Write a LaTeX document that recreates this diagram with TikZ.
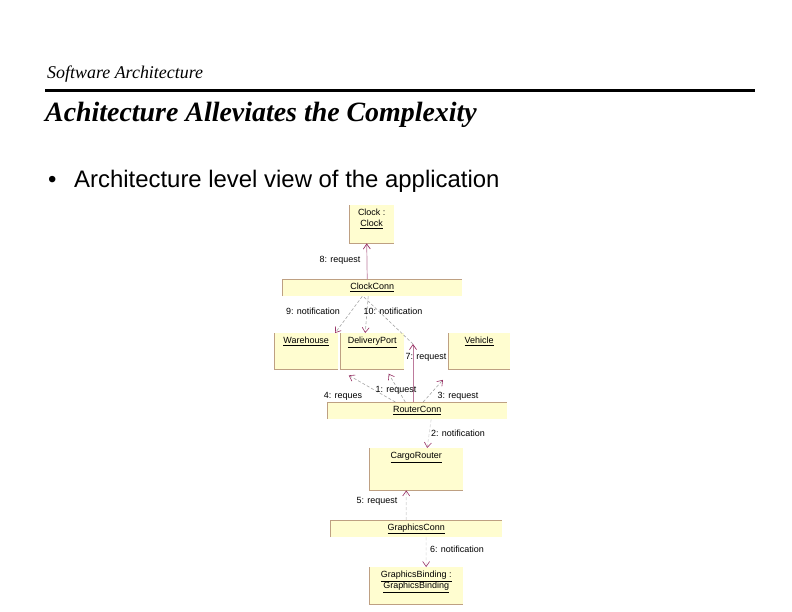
\documentclass[tikz,border=0pt]{standalone}
\usepackage{fontspec}
\setmainfont{Liberation Serif}
\setsansfont{Liberation Sans}
\usetikzlibrary{arrows.meta, positioning}
\definecolor{notefill}{RGB}{255,253,208}
\definecolor{noteedge}{RGB}{190,160,130}
\definecolor{msgpink}{RGB}{153,51,102}
\definecolor{msgline}{RGB}{165,165,165}

\begin{document}
\begin{tikzpicture}[x=1bp, y=-1bp,
        comp/.style={fill=notefill, inner sep=0pt, anchor=north west,
                     path picture={\draw[noteedge, line width=1.2bp]
                       (path picture bounding box.north west) |- (path picture bounding box.south east);}},
        bar/.style={fill=notefill, inner sep=0pt, anchor=north west,
                    font=\sffamily\fontsize{9}{10}\selectfont,
                    path picture={\draw[noteedge, line width=1.2bp]
                       (path picture bounding box.south west) |- (path picture bounding box.north east);}},
        boxtext/.style={font=\sffamily\fontsize{9}{11}\selectfont, anchor=north, inner sep=4bp, align=center},
        lbl/.style={font=\sffamily\fontsize{9}{10}\selectfont, inner sep=0pt},
        msg/.style={msgline, densely dashed, line width=0.6bp,
                    -{Straight Barb[length=5bp, width=7bp, color=msgpink]}},
        faint/.style={msg, msgline!45},
        call/.style={msgpink!65, line width=0.7bp,
                     -{Straight Barb[length=5bp, width=7bp, color=msgpink]}}
      ]
        \useasboundingbox[fill=white] (0,0) rectangle (792,612);

        % slide header
        \node[font=\fontsize{18}{21}\selectfont\itshape, anchor=base west, inner sep=0pt]
          (runhead) at (47,79) {Software Architecture};
        \draw[line width=3bp] (45,91) -- (755,91);
        \node[font=\fontsize{28}{33}\selectfont\bfseries\itshape, anchor=base west, inner sep=0pt]
          (title) at (45,122) {Achitecture Alleviates the Complexity};
        \node[font=\sffamily\fontsize{24}{28}\selectfont, anchor=base west, inner sep=0pt]
          (bullet) at (48,188) {\textbullet};
        \node[font=\sffamily\fontsize{24}{28}\selectfont, anchor=base west, inner sep=0pt]
          (point) at (74,188) {Architecture level view of the application};

        % components and connectors
        \node[comp, minimum width=45bp, minimum height=38bp,
              label={[boxtext]north:{Clock :\\\underline{Clock}}}] (clock) at (349,205) {};
        \node[bar, minimum width=180bp, minimum height=17bp] (clockconn) at (282,279) {\underline{ClockConn}};
        \node[comp, minimum width=64bp, minimum height=36bp,
              label={[boxtext]north:\underline{Warehouse}}] (warehouse) at (274,333) {};
        \node[comp, minimum width=64bp, minimum height=36bp,
              label={[boxtext]north:\underline{DeliveryPort}}] (deliveryport) at (340,333) {};
        \node[comp, minimum width=62bp, minimum height=36bp,
              label={[boxtext]north:\underline{Vehicle}}] (vehicle) at (448,333) {};
        \node[bar, minimum width=180bp, minimum height=17bp] (routerconn) at (327,402) {\underline{RouterConn}};
        \node[comp, minimum width=94bp, minimum height=42bp,
              label={[boxtext]north:\underline{CargoRouter}}] (cargorouter) at (369,448) {};
        \node[bar, minimum width=172bp, minimum height=17bp] (graphicsconn) at (330,520) {\underline{GraphicsConn}};
        \node[comp, minimum width=94bp, minimum height=37bp,
              label={[boxtext]north:{\underline{GraphicsBinding :}\\\underline{GraphicsBinding}}}] (graphicsbinding) at (369,567) {};

        % messages
        \coordinate (turn7) at (413,344);
        \draw[call] ([xshift=-5]clockconn.north) -- ([xshift=-5]clock.south);
        \draw[msg] ([xshift=-10]clockconn.south) -- ([xshift=29]warehouse.north);
        \draw[msg] ([xshift=-4]clockconn.south) -- ([xshift=-7]deliveryport.north);
        \draw[call] (routerconn.north -| turn7) -- (turn7);
        \draw[msg, -] (turn7) -- ([xshift=-9]clockconn.south);
        \draw[msg, shorten >=12bp] ([xshift=-22]routerconn.north) -- (warehouse.south east);
        \draw[msg, shorten >=5bp] ([xshift=-12]routerconn.north) -- ([xshift=14]deliveryport.south);
        \draw[msg, shorten >=14bp] ([xshift=6]routerconn.north) -- ([xshift=-27]vehicle.south);
        \draw[faint] ([xshift=14]routerconn.south) -- ([xshift=11]cargorouter.north);
        \draw[faint] ([xshift=-10]graphicsconn.north) -- ([xshift=-10]cargorouter.south);
        \draw[faint] ([xshift=10]graphicsconn.south) -- ([xshift=10]graphicsbinding.north);

        \node[lbl] (m8)  at (340,260) {8: request};
        \node[lbl] (m9)  at (313,311) {9: notification};
        \node[lbl] (m10) at (393,311) {10: notification};
        \node[lbl] (m7)  at (426,357) {7: request};
        \node[lbl] (m4)  at (343,396) {4: reques};
        \node[lbl] (m1)  at (396,390) {1: request};
        \node[lbl] (m3)  at (458,396) {3: request};
        \node[lbl] (m2)  at (458,433) {2: notification};
        \node[lbl] (m5)  at (377,501) {5: request};
        \node[lbl] (m6)  at (457,549) {6: notification};
      \end{tikzpicture}
\end{document}
